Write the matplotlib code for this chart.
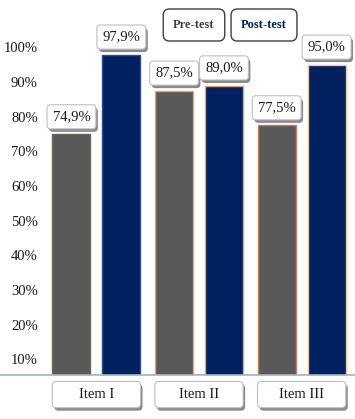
import matplotlib
matplotlib.use("Agg")
import matplotlib.pyplot as plt
from matplotlib.patches import FancyBboxPatch
from matplotlib.lines import Line2D
import matplotlib.transforms as mtransforms
import numpy as np

categories = ["Item I", "Item II", "Item III"]
pre_test = [74.9, 87.5, 77.5]
post_test = [97.9, 89.0, 95.0]
pre_labels = ["74,9%", "87,5%", "77,5%"]
post_labels = ["97,9%", "89,0%", "95,0%"]
yticks = [10, 20, 30, 40, 50, 60, 70, 80, 90, 100]
ytick_labels = ["10%", "20%", "30%", "40%", "50%", "60%", "70%", "80%", "90%", "100%"]
series_names = ["Pre-test", "Post-test"]

W, H = 355, 419
fig = plt.figure(figsize=(W / 100, H / 100), dpi=100)
fig.patch.set_facecolor("white")
ax = fig.add_axes([42 / W, 44 / H, (W - 42) / W, 355 / H])
ax.set_facecolor("none")

serif = ["Liberation Serif", "DejaVu Serif"]
PRE = "#595959"
POST = "#002060"
SHADOW = "#8A8A8A"

x = np.arange(len(categories))
bw = 0.37
off = 0.243
edge_pre = ["#66665A", "#F0A070", "#C08060"]
edge_post = ["#2F4F80", "#E8A070", "#F4C09A"]
ax.bar(x - off, pre_test, bw, color=PRE, edgecolor=edge_pre, linewidth=1.0, zorder=2)
ax.bar(x + off, post_test, bw, color=POST, edgecolor=edge_post, linewidth=1.0, zorder=2)

ax.set_xlim(-0.53, 2.52)
ax.set_ylim(5.5, 107.9)
ax.set_yticks(yticks)
ax.set_yticklabels(ytick_labels, fontfamily=serif, fontsize=10.5, color="#1A1A1A")
ax.tick_params(axis="y", length=0, pad=3)
ax.set_xticks([])
for s in ax.spines.values():
    s.set_visible(False)

# baseline across full width
fig.add_artist(Line2D([0, 1], [44 / H, 44 / H], color="#9DB3C8", lw=1.2))

# value labels with rounded boxes
value_texts = []
def value_box(xv, yv, txt):
    t = ax.annotate(txt, (xv, yv), xytext=(0, 8.0), textcoords="offset points",
                    ha="center", va="bottom", fontsize=10.5, fontfamily=serif, color="#1A1A1A",
                    bbox=dict(boxstyle="round,pad=0.38,rounding_size=0.25", fc="white", ec="#BFBFBF", lw=0.8),
                    zorder=5, annotation_clip=False)
    value_texts.append(t)

for xi, v, t in zip(x - off, pre_test, pre_labels):
    value_box(xi, v, t)
for xi, v, t in zip(x + off, post_test, post_labels):
    value_box(xi, v, t)

# category label boxes below axis
trans = mtransforms.blended_transform_factory(ax.transData, ax.transAxes)
shadow_tr = mtransforms.offset_copy(trans, fig=fig, x=2, y=-3, units="dots")
bwid = 0.86
y0, y1 = -0.092, -0.018
for xi, cat in zip(x, categories):
    sh = FancyBboxPatch((xi - bwid / 2, y0), bwid, y1 - y0,
                        boxstyle="round,pad=0,rounding_size=0.04", transform=shadow_tr,
                        fc=SHADOW, ec="none", clip_on=False, zorder=3, mutation_aspect=0.3)
    ax.add_patch(sh)
    bx = FancyBboxPatch((xi - bwid / 2, y0), bwid, y1 - y0,
                        boxstyle="round,pad=0,rounding_size=0.04", transform=trans,
                        fc="white", ec="#BFBFBF", lw=0.8, clip_on=False, zorder=4, mutation_aspect=0.3)
    ax.add_patch(bx)
    ax.text(xi, (y0 + y1) / 2, cat, transform=trans, ha="center", va="center",
            fontsize=10.5, fontfamily=serif, color="#1A1A1A", zorder=5, clip_on=False)

# legend as two rounded boxes
leg_colors = ["#404040", POST]
leg_x = [194 / W, 264 / W]
for lx, name, c in zip(leg_x, series_names, leg_colors):
    fig.text(lx, 1 - 25 / H, name, ha="center", va="center", fontsize=9,
             fontfamily=serif, fontweight="bold", color=c,
             bbox=dict(boxstyle="round,pad=0.8,rounding_size=0.5", fc="white", ec="#404040", lw=1.0))

# shadows for value boxes, measured from rendered bbox patches
fig.canvas.draw()
for t in value_texts:
    bb = t.get_bbox_patch().get_window_extent()
    sh = FancyBboxPatch((bb.x0 + 2, bb.y0 - 3), bb.width, bb.height,
                        boxstyle="round,pad=0,rounding_size=4",
                        transform=mtransforms.IdentityTransform(),
                        fc=SHADOW, ec="none", zorder=3, clip_on=False)
    ax.add_artist(sh)

fig.savefig("out.png", dpi=100)
